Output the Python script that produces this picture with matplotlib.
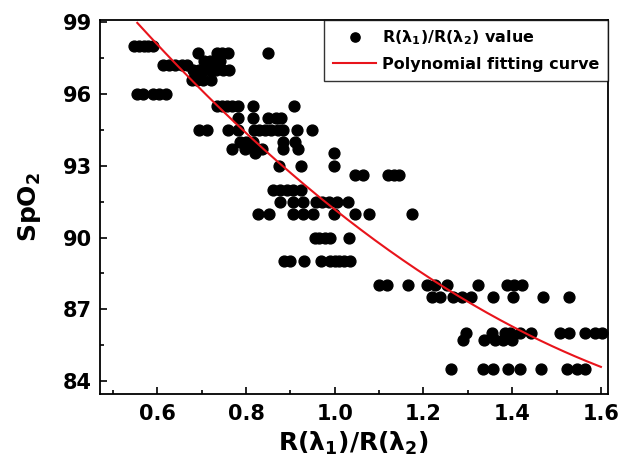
import numpy as np
import matplotlib
matplotlib.use("Agg")
import matplotlib.pyplot as plt
from matplotlib.ticker import MultipleLocator

# ==========================================
# DATI
# ==========================================

# livelli di SpO2 (asse y) e rapporti R(l1)/R(l2) misurati per ogni livello
spo2_levels = [98.0, 97.7, 97.4, 97.2, 97.0, 96.6, 96.0, 95.5, 95.0, 94.5,
               94.0, 93.7, 93.55, 93.0, 92.6, 92.0, 91.5, 91.0, 90.0, 89.0,
               88.0, 87.5, 86.0, 85.7, 84.5]

ratio_rows = [
    [0.548, 0.559, 0.570, 0.580, 0.590],
    [0.692, 0.734, 0.745, 0.760, 0.850],
    [0.705, 0.718, 0.730, 0.742],
    [0.613, 0.627, 0.641, 0.655, 0.668],
    [0.680, 0.693, 0.706, 0.720, 0.733, 0.748, 0.762],
    [0.678, 0.690, 0.703, 0.722],
    [0.555, 0.568, 0.590, 0.604, 0.620],
    [0.735, 0.746, 0.757, 0.768, 0.782, 0.816, 0.908],
    [0.782, 0.816, 0.850, 0.868, 0.880],
    [0.695, 0.713, 0.760, 0.782, 0.818, 0.830, 0.843, 0.856,
     0.872, 0.884, 0.916, 0.948],
    [0.787, 0.800, 0.815, 0.884, 0.910],
    [0.768, 0.797, 0.820, 0.835, 0.884, 0.917],
    [0.820, 0.999],
    [0.874, 0.925, 0.999],
    [1.045, 1.063, 1.120, 1.133, 1.145],
    [0.862, 0.877, 0.892, 0.906, 0.925],
    [0.877, 0.906, 0.929, 0.958, 0.972, 0.988, 1.005, 1.030],
    [0.827, 0.852, 0.906, 0.929, 0.950, 0.999, 1.045, 1.077, 1.175],
    [0.955, 0.965, 0.977, 0.990, 1.032],
    [0.885, 0.900, 0.930, 0.970, 0.990, 1.000, 1.010, 1.020, 1.035],
    [1.100, 1.118, 1.165, 1.208, 1.226, 1.253, 1.323, 1.388, 1.405, 1.423],
    [1.220, 1.238, 1.267, 1.287, 1.307, 1.357, 1.402, 1.470, 1.527],
    [1.296, 1.355, 1.384, 1.395, 1.418, 1.442, 1.507, 1.528, 1.564,
     1.587, 1.602],
    [1.289, 1.337, 1.361, 1.380, 1.400],
    [1.262, 1.334, 1.357, 1.390, 1.418, 1.465, 1.523, 1.545, 1.565],
]

# coefficienti del fit polinomiale (2° ordine) e intervallo della curva
fit_coef  = [6.281, -27.302, 112.197]
fit_range = [0.555, 1.600]

x_ticks = [0.6, 0.8, 1.0, 1.2, 1.4, 1.6]
y_ticks = [84, 87, 90, 93, 96, 99]

ratio = np.concatenate([np.array(r) for r in ratio_rows])
spo2  = np.concatenate([np.full(len(r), lv) for r, lv in zip(ratio_rows, spo2_levels)])

# ==========================================
# GRAFICO
# ==========================================

plt.rcParams['font.family'] = ['DejaVu Sans']
plt.rcParams['font.weight'] = 'bold'
plt.rcParams['mathtext.fontset'] = 'dejavusans'
plt.rcParams['mathtext.default'] = 'bf'

fig = plt.figure(figsize=(6.22, 4.72), dpi=100)
ax = fig.add_axes([0.1608, 0.1653, 0.8167, 0.7924])

ax.plot(ratio, spo2, 'o', color='black', markersize=7.8, linestyle='none',
        label=r'R($\lambda_1$)/R($\lambda_2$) value')

xf = np.linspace(fit_range[0], fit_range[1], 200)
ax.plot(xf, np.polyval(fit_coef, xf), color='#e8141b', linewidth=1.5,
        label='Polynomial fitting curve')

ax.set_xlim(0.471, 1.616)
ax.set_ylim(83.46, 99.1)
ax.set_xticks(x_ticks)
ax.set_yticks(y_ticks)
ax.set_xticklabels([f'{v:.1f}' for v in x_ticks])
ax.xaxis.set_minor_locator(MultipleLocator(0.1))
ax.yaxis.set_minor_locator(MultipleLocator(1.5))
ax.tick_params(which='both', direction='in', top=False, right=False,
               labelsize=15, width=1.2)
ax.tick_params(which='major', length=5)
ax.tick_params(which='minor', length=3)
ax.tick_params(axis='x', pad=7)
ax.tick_params(axis='y', pad=6)
for s in ax.spines.values():
    s.set_linewidth(1.3)

ax.set_xlabel(r'R($\lambda_1$)/R($\lambda_2$)', fontsize=18, fontweight='bold')
ax.set_ylabel(r'SpO$_2$', fontsize=18, fontweight='bold')
ax.xaxis.set_label_coords(0.5, -0.095)
ax.yaxis.set_label_coords(-0.112, 0.5)

leg = ax.legend(loc='upper right', fontsize=11.5, frameon=True, fancybox=False,
                borderaxespad=0, handlelength=2.7, handletextpad=0.35,
                labelspacing=0.6, borderpad=0.55, markerscale=0.85)
leg.get_frame().set_edgecolor('black')
leg.get_frame().set_linewidth(1.0)
for t in leg.get_texts():
    t.set_fontweight('bold')

plt.savefig('out.png', dpi=100)
